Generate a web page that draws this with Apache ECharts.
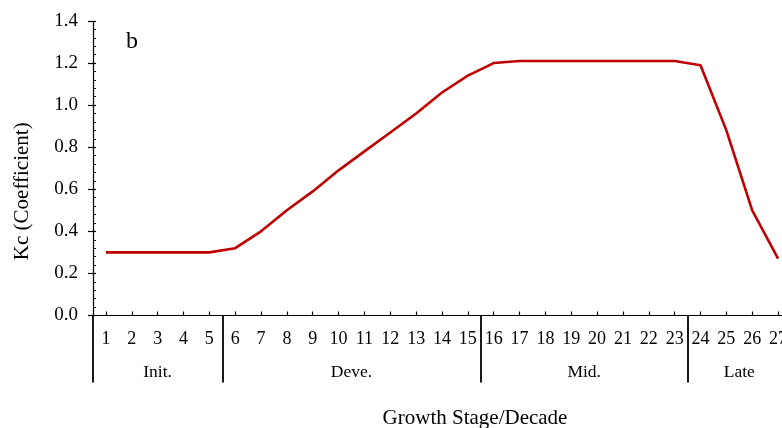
<!DOCTYPE html>
<html>
<head>
<meta charset="utf-8">
<script src="https://cdn.jsdelivr.net/npm/echarts@6/dist/echarts.min.js"></script>
<style>html,body{margin:0;padding:0;background:#fff}#c{width:782px;height:428px}</style>
</head>
<body>
<div id="c"></div>
<script>
const decades = ['1','2','3','4','5','6','7','8','9','10','11','12','13','14','15','16','17','18','19','20','21','22','23','24','25','26','27'];
const kc = [0.30,0.30,0.30,0.30,0.30,0.32,0.40,0.50,0.59,0.69,0.78,0.87,0.96,1.06,1.14,1.20,1.21,1.21,1.21,1.21,1.21,1.21,1.21,1.19,0.88,0.50,0.27];
const stageNames = ['Init.','Deve.','Mid.','Late'];
const stageSizes = [5,10,8,4];
const yTicks = ['0.0','0.2','0.4','0.6','0.8','1.0','1.2','1.4'];

// stage boundaries and centres in decade units (category i sits at i+1)
const bounds = [];
const centres = [];
let acc = 0;
stageSizes.forEach(function(s){ bounds.push(acc + 0.5); centres.push(acc + (s + 1) / 2); acc += s; });

const FONT = 'Liberation Serif, Times New Roman, serif';
const chart = echarts.init(document.getElementById('c'));
chart.setOption({
  animation: false,
  backgroundColor: '#fff',
  title: {
    text: 'b', left: 121, top: 25,
    textStyle: { fontFamily: FONT, fontSize: 24, fontWeight: 'normal', color: '#000' }
  },
  grid: { left: 93, top: 21, right: -9, bottom: 112.5, containLabel: false, outerBoundsMode: 'none' },
  xAxis: [
    {
      type: 'category', data: decades, boundaryGap: true, position: 'bottom',
      axisLine: { show: true, lineStyle: { color: '#000', width: 1.2 } },
      axisTick: { show: true, alignWithLabel: true, inside: true, length: 4, lineStyle: { color: '#000', width: 1.2 } },
      axisLabel: { interval: 0, margin: 15, color: '#000', fontFamily: FONT, fontSize: 18 },
      splitLine: { show: false }
    },
    {
      type: 'value', min: 0.5, max: decades.length + 0.5, position: 'bottom',
      axisLine: { show: false },
      axisTick: { show: true, inside: false, length: 67, customValues: bounds, lineStyle: { color: '#000', width: 1.8 } },
      axisLabel: {
        show: true, margin: 48, customValues: centres, color: '#000', fontFamily: FONT, fontSize: 17.5,
        formatter: function(v){ const i = centres.indexOf(v); return i >= 0 ? stageNames[i] : ''; }
      },
      splitLine: { show: false },
      name: 'Growth Stage/Decade', nameLocation: 'middle', nameGap: 92,
      nameTextStyle: { fontFamily: FONT, fontSize: 21, color: '#000', padding: [0, 0, 0, 66] }
    }
  ],
  yAxis: [
    {
      type: 'value', min: 0, max: 1.4, interval: 0.2, position: 'left',
      axisLine: { show: true, lineStyle: { color: '#000', width: 1.2 } },
      axisTick: { show: true, inside: false, length: 5, lineStyle: { color: '#000', width: 1.2 } },
      axisLabel: { margin: 15, color: '#000', fontFamily: FONT, fontSize: 19,
        formatter: function(v){ return yTicks[Math.round(v / 0.2)]; } },
      splitLine: { show: false },
      name: 'Kc (Coefficient)', nameLocation: 'middle', nameGap: 60, nameRotate: 90,
      nameTextStyle: { fontFamily: FONT, fontSize: 21, color: '#000', padding: [0, 46, 0, 0] }
    },
    {
      type: 'value', min: 0, max: 1.4, interval: 0.2, position: 'left', offset: 0,
      axisLine: { show: false },
      axisTick: { show: true, inside: true, length: 3, lineStyle: { color: '#000', width: 1.2 } },
      minorTick: { show: true, splitNumber: 5, length: 3, lineStyle: { color: '#000', width: 1 } },
      axisLabel: { show: false },
      splitLine: { show: false }
    }
  ],
  series: [
    {
      type: 'line', xAxisIndex: 0, yAxisIndex: 0, data: kc,
      symbol: 'none', smooth: false,
      lineStyle: { color: '#C00000', width: 2.6 }
    }
  ]
});
</script>
</body>
</html>
